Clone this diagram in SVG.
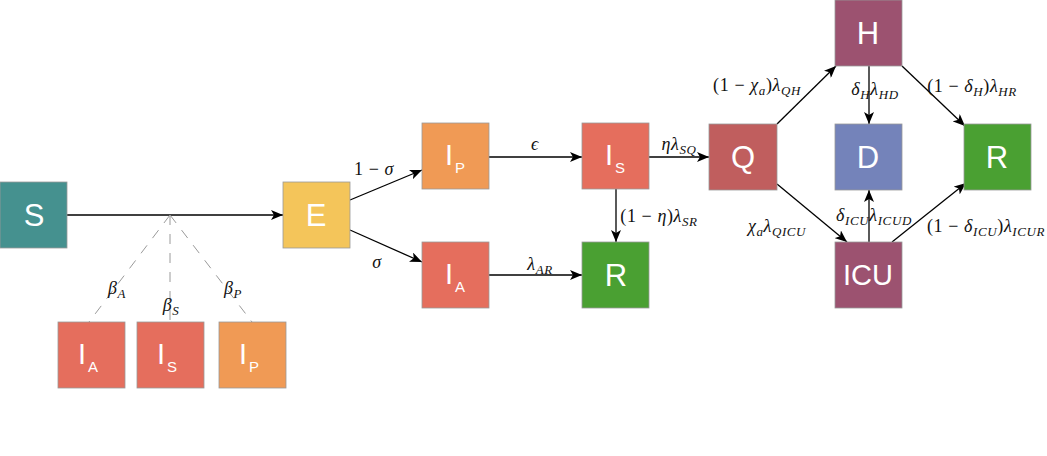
<svg xmlns="http://www.w3.org/2000/svg" width="1047" height="456" viewBox="0 0 1047 456">
<defs>
<marker id="ah" viewBox="0 0 12 10" refX="12" refY="5" markerWidth="12" markerHeight="10" markerUnits="userSpaceOnUse" orient="auto">
<path d="M0,0 L12,5 L0,10 L3,5 z" fill="#000"/>
</marker>
<style>
.box{stroke:#9a9a9a;stroke-width:0.8}
.lbl{font-family:"Liberation Sans",Arial,sans-serif;font-size:29px;fill:#fff;text-anchor:middle}
.big{font-size:31px}
.sub{font-size:15px}
.edge{stroke:#000;stroke-width:1.3;fill:none;marker-end:url(#ah)}
.dash{stroke:#9a9a9a;stroke-width:1;stroke-dasharray:10 9;fill:none}
.m{font-family:"Liberation Serif","Times New Roman",serif;font-size:18px;font-style:italic;fill:#111;text-anchor:middle;letter-spacing:0.6px}
.u{font-style:normal}
.s{font-size:13px}
</style>
</defs>
<rect width="1047" height="456" fill="#fff"/>
<g id="connectors">
<line class="edge" x1="67" y1="215" x2="283" y2="215"/>
<path class="dash" d="M170,215 L89,322"/>
<path class="dash" d="M170,215 L170,322"/>
<path class="dash" d="M170,215 L252,322"/>
<line class="edge" x1="350" y1="200" x2="422" y2="170"/>
<line class="edge" x1="350" y1="230" x2="422" y2="262"/>
<line class="edge" x1="489" y1="157" x2="582" y2="157"/>
<line class="edge" x1="489" y1="275" x2="582" y2="275"/>
<line class="edge" x1="616" y1="189" x2="616" y2="242"/>
<line class="edge" x1="649" y1="157" x2="709" y2="157"/>
<line class="edge" x1="777" y1="124" x2="836" y2="66"/>
<line class="edge" x1="869" y1="66" x2="869" y2="124"/>
<line class="edge" x1="902" y1="66" x2="965" y2="126"/>
<line class="edge" x1="777" y1="184" x2="847" y2="242"/>
<line class="edge" x1="869" y1="242" x2="869" y2="190"/>
<line class="edge" x1="892" y1="242" x2="966" y2="183"/>
</g>
<g id="edge-labels">
<text class="m" x="117" y="294">β<tspan class="s" dy="4">A</tspan></text>
<text class="m" x="171" y="311">β<tspan class="s" dy="4">S</tspan></text>
<text class="m" x="233" y="294">β<tspan class="s" dy="4">P</tspan></text>
<text class="m" x="374" y="175"><tspan class="u">1 − </tspan>σ</text>
<text class="m" x="377" y="268">σ</text>
<text class="m" x="535" y="150">ϵ</text>
<text class="m" x="679" y="150">ηλ<tspan class="s" dy="4">SQ</tspan></text>
<text class="m" x="659" y="222"><tspan class="u">(1 − </tspan>η<tspan class="u">)</tspan>λ<tspan class="s" dy="4">SR</tspan></text>
<text class="m" x="540" y="270">λ<tspan class="s" dy="4">AR</tspan></text>
<text class="m" x="757" y="91"><tspan class="u">(1 − </tspan>χ<tspan class="s" dy="4">a</tspan><tspan class="u" dy="-4">)</tspan>λ<tspan class="s" dy="4">QH</tspan></text>
<text class="m" x="875" y="95">δ<tspan class="s" dy="4">H</tspan><tspan dy="-4">λ</tspan><tspan class="s" dy="4">HD</tspan></text>
<text class="m" x="972" y="92"><tspan class="u">(1 − </tspan>δ<tspan class="s" dy="4">H</tspan><tspan class="u" dy="-4">)</tspan>λ<tspan class="s" dy="4">HR</tspan></text>
<text class="m" x="777" y="232">χ<tspan class="s" dy="4">a</tspan><tspan dy="-4">λ</tspan><tspan class="s" dy="4">QICU</tspan></text>
<text class="m" x="874" y="221">δ<tspan class="s" dy="4">ICU</tspan><tspan dy="-4">λ</tspan><tspan class="s" dy="4">ICUD</tspan></text>
<text class="m" x="986" y="232"><tspan class="u">(1 − </tspan>δ<tspan class="s" dy="4">ICU</tspan><tspan class="u" dy="-4">)</tspan>λ<tspan class="s" dy="4">ICUR</tspan></text>
</g>
<g id="node-S"><rect class="box" x="0" y="182" width="67" height="66" fill="#45918F"/><text class="lbl big" x="34" y="226">S</text></g>
<g id="node-E"><rect class="box" x="283" y="182" width="67" height="66" fill="#F4C55A"/><text class="lbl big" x="316" y="226">E</text></g>
<g id="node-IP"><rect class="box" x="422" y="123" width="67" height="66" fill="#F09A55"/><text class="lbl" x="455" y="165">I<tspan class="sub" dx="2" dy="8">P</tspan></text></g>
<g id="node-IS"><rect class="box" x="582" y="123" width="67" height="66" fill="#E56E5D"/><text class="lbl" x="615" y="165">I<tspan class="sub" dx="2" dy="8">S</tspan></text></g>
<g id="node-IA"><rect class="box" x="422" y="242" width="67" height="66" fill="#E56E5D"/><text class="lbl" x="455" y="284">I<tspan class="sub" dx="2" dy="8">A</tspan></text></g>
<g id="node-R1"><rect class="box" x="582" y="242" width="67" height="66" fill="#4AA032"/><text class="lbl big" x="616" y="286">R</text></g>
<g id="node-Q"><rect class="box" x="709" y="124" width="68" height="66" fill="#C05E5E"/><text class="lbl big" x="743" y="168">Q</text></g>
<g id="node-H"><rect class="box" x="835" y="0" width="67" height="66" fill="#9C5270"/><text class="lbl big" x="868" y="44">H</text></g>
<g id="node-D"><rect class="box" x="835" y="124" width="67" height="66" fill="#7483BA"/><text class="lbl big" x="868" y="168">D</text></g>
<g id="node-R2"><rect class="box" x="964" y="124" width="67" height="66" fill="#4AA032"/><text class="lbl big" x="997" y="168">R</text></g>
<g id="node-ICU"><rect class="box" x="835" y="242" width="67" height="66" fill="#9C5270"/><text class="lbl" x="868" y="285">ICU</text></g>
<g id="node-IA2"><rect class="box" x="58" y="322" width="67" height="66" fill="#E56E5D"/><text class="lbl" x="88" y="364">I<tspan class="sub" dx="2" dy="8">A</tspan></text></g>
<g id="node-IS2"><rect class="box" x="137" y="322" width="67" height="66" fill="#E56E5D"/><text class="lbl" x="167" y="364">I<tspan class="sub" dx="2" dy="8">S</tspan></text></g>
<g id="node-IP2"><rect class="box" x="219" y="322" width="67" height="66" fill="#F09A55"/><text class="lbl" x="249" y="364">I<tspan class="sub" dx="2" dy="8">P</tspan></text></g>
</svg>
